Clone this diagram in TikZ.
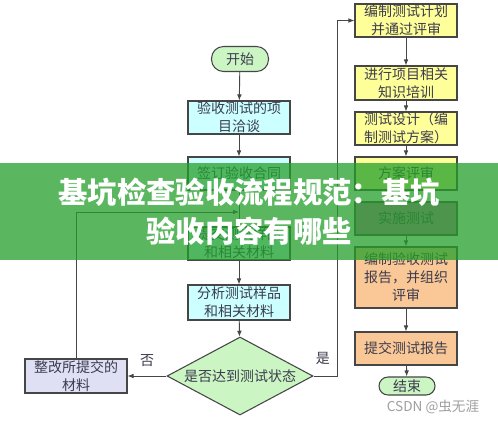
\documentclass[tikz,border=0pt]{standalone}
\usepackage{fontspec}
\setmainfont{Noto Sans CJK SC}
\usetikzlibrary{shapes.geometric,arrows.meta}
\definecolor{cyanbox}{RGB}{204,255,255}
\definecolor{yelbox}{RGB}{255,255,153}
\definecolor{orbox}{RGB}{250,200,150}
\definecolor{grnbox}{RGB}{204,245,196}
\definecolor{lavbox}{RGB}{224,224,245}
\definecolor{purbox}{RGB}{200,120,180}
\definecolor{edgec}{RGB}{70,70,70}
\definecolor{txt}{RGB}{60,60,78}
\definecolor{bannerc}{RGB}{36,160,42}
\tikzset{
  box/.style={draw=edgec, line width=0.8pt, minimum width=76.5pt, minimum height=24.75pt,
    inner sep=0.5pt, align=center, font=\fontsize{10.5pt}{13.5pt}\selectfont, text=txt},
  termbox/.style={draw=edgec, line width=0.8pt, fill=grnbox, align=center, inner sep=0pt,
    font=\fontsize{10.5pt}{13.5pt}\selectfont, text=txt},
  arr/.style={draw=edgec, line width=0.7pt, -{Latex[length=4.5pt,width=3.5pt]}},
  lbl/.style={font=\fontsize{10.5pt}{13.5pt}\selectfont, text=txt}
}
\begin{document}
\begin{tikzpicture}[x=0.75pt,y=-0.75pt]
\useasboundingbox (0,0) rectangle (498,424);
\fill[white] (0,0) rectangle (498,424);
% left column
\node[termbox, minimum width=42.75pt, minimum height=18.75pt, rounded corners=9pt] (start) at (240,59) {开始};
\node[box, fill=cyanbox] (b1) at (239,117.5) {验收测试的项\\目洽谈};
\node[box, fill=cyanbox] (b2) at (239,173.5) {签订验收合同};
\node[box, fill=cyanbox] (b3) at (239,243.5) {提交测试样品\\和相关材料};
\node[box, fill=cyanbox, minimum height=26.25pt] (b4) at (239,302.5) {分析测试样品\\和相关材料};
\node[diamond, draw=edgec, line width=0.8pt, fill=grnbox, minimum width=109.5pt, minimum height=58.5pt, inner sep=0pt] (dia) at (240,376) {};
\node[lbl] (diatext) at (dia.center) {是否达到测试状态};
\node[box, fill=lavbox, minimum height=25.5pt] (fix) at (76,376) {整改所提交的\\材料};
\coordinate (merge) at (239,212);
\coordinate (yescorner) at (337,376);
% right column
\node[box, fill=yelbox] (r1) at (406,20.5) {编制测试计划\\并通过评审};
\node[box, fill=yelbox, minimum height=25.5pt] (r2) at (406,83) {进行项目相关\\知识培训};
\node[box, fill=yelbox] (r3) at (406,128.5) {测试设计（编\\制测试方案）};
\node[box, fill=yelbox] (r4) at (406,173.5) {方案评审};
\node[box, fill=purbox] (r5) at (406,218.5) {实施测试};
\node[box, fill=orbox, minimum height=45.75pt] (r6) at (406,277.5) {编制验收测试\\报告，并组织\\评审};
\node[box, fill=orbox] (r7) at (406,348.5) {提交测试报告};
\node[termbox, minimum width=42pt, minimum height=13.5pt, rounded corners=6.75pt] (end) at (407,386) {结束};
% connectors
\draw[arr] (start) -- (b1);
\draw[arr] (b1) -- (b2);
\draw[arr] (b2) -- (b3);
\draw[arr] (b3) -- (b4);
\draw[arr] (b4) -- (dia);
\draw[arr] (dia.west) -- node[lbl, above=3pt] {否} (fix.east);
\draw[arr] (fix.north) |- (merge);
\draw[arr] (dia.east) -- node[lbl, above=5pt, pos=0.4] {是} (yescorner) |- (r1.west);
\draw[arr] (r1) -- (r2);
\draw[arr] (r2) -- (r3);
\draw[arr] (r3) -- (r4);
\draw[arr] (r4) -- (r5);
\draw[arr] (r5) -- (r6);
\draw[arr] (r6) -- (r7);
\draw[arr] (r7) -- (end);
\node[text=gray!75, font=\fontsize{10.2pt}{12pt}\selectfont] (wm) at (433,407) {CSDN @虫无涯};
% banner
\fill[bannerc, opacity=0.75] (0,163) rectangle (498,260);
\node[text=white, align=center, font=\bfseries\fontsize{22pt}{29.25pt}\selectfont] (title) at (249,212) {基坑检查验收流程规范：基坑\\验收内容有哪些};
\end{tikzpicture}
\end{document}
